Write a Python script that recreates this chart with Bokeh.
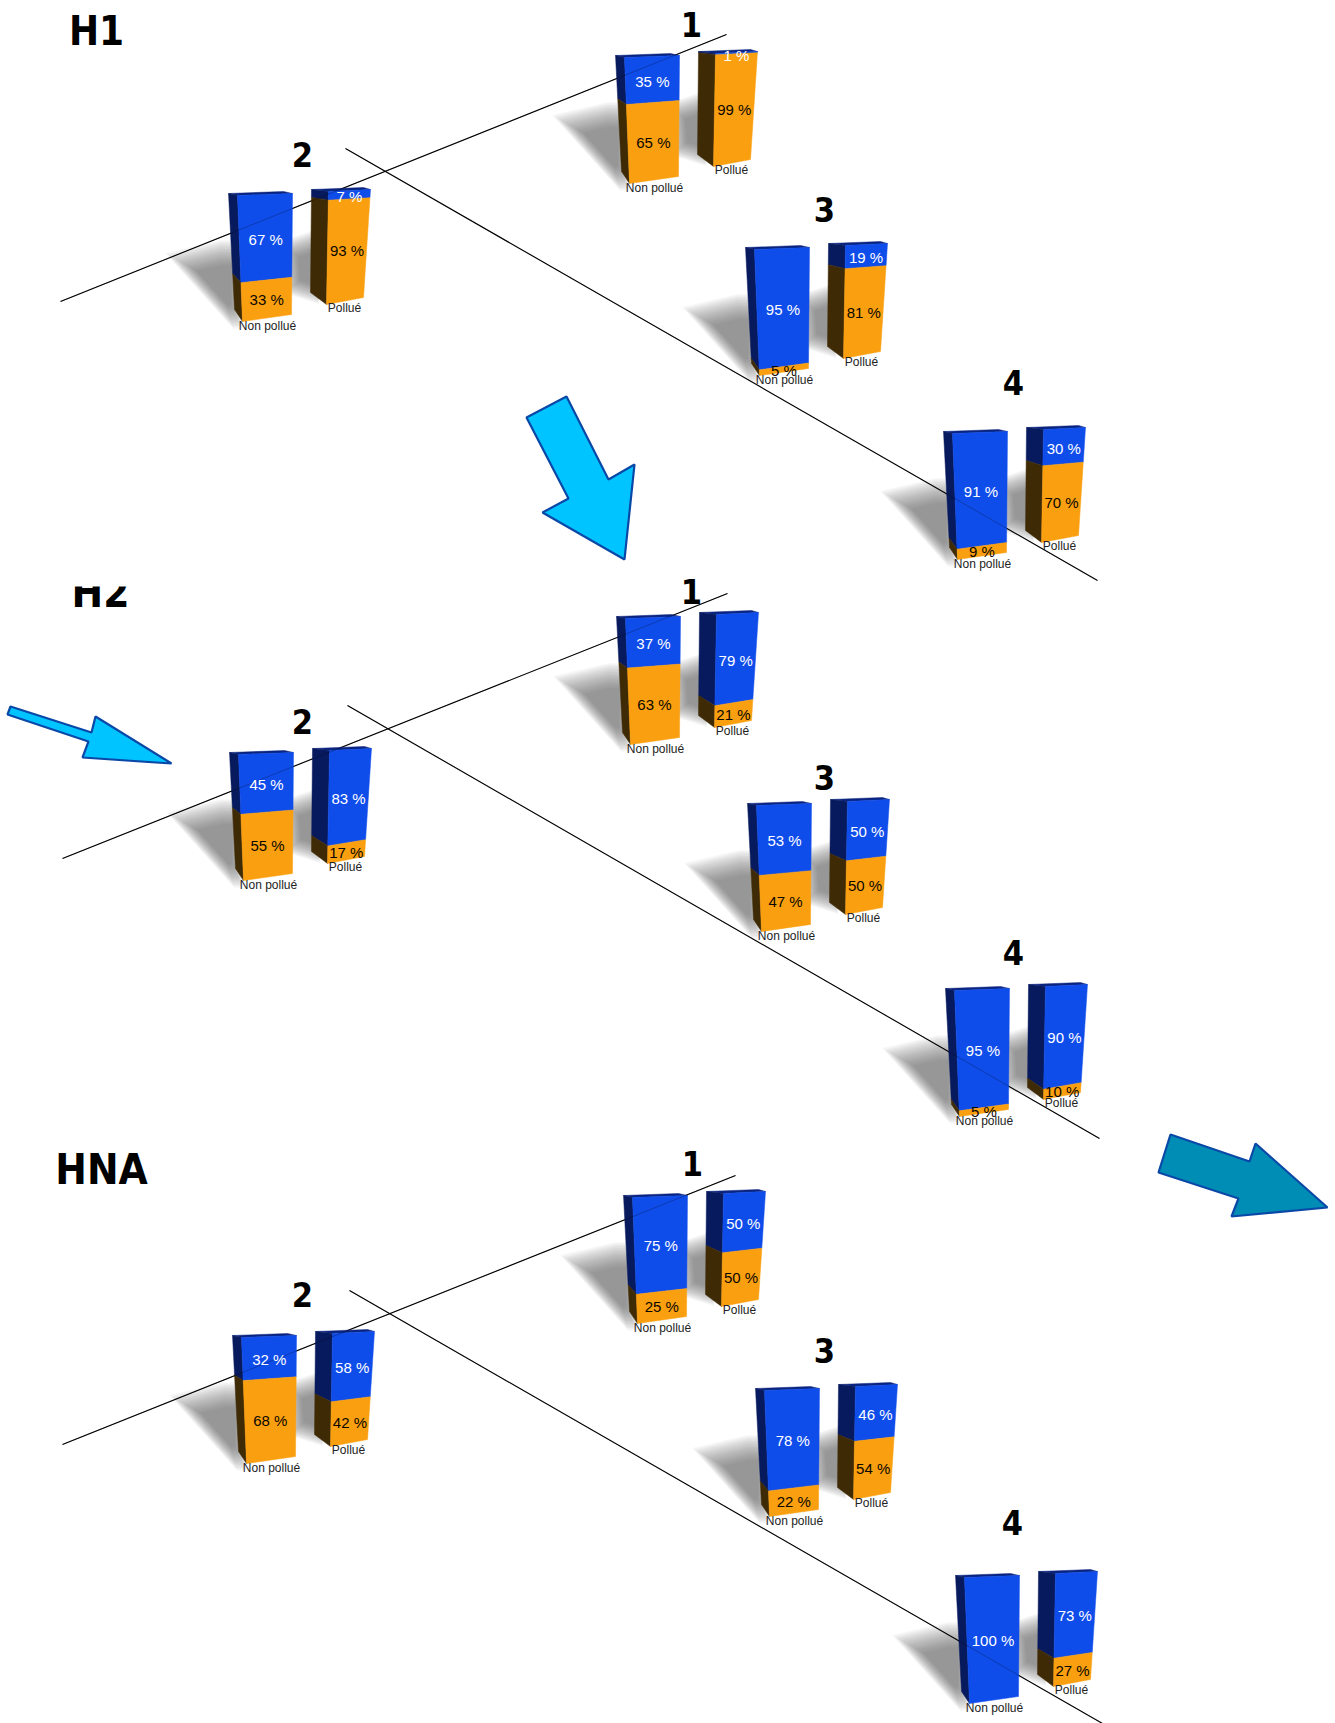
from bokeh.plotting import figure
from bokeh.models import Range1d
from bokeh.core.properties import value
from bokeh.embed import file_html
from bokeh.resources import INLINE

# ---- data: share of blue per site (1,2,3,4), orange is the complement
sites = ["1", "2", "3", "4"]
panels = ["H1", "H2", "HNA"]
h1_non_pollue = [35, 67, 95, 91]
h1_pollue = [1, 7, 19, 30]
h2_non_pollue = [37, 45, 53, 95]
h2_pollue = [79, 83, 50, 90]
hna_non_pollue = [75, 32, 78, 100]
hna_pollue = [50, 58, 46, 73]
series_names = ["Non pollué", "Pollué"]

# ---- layout (page pixels of the picture)
ANCHORS = {
    "H1": [(615, 55), (228, 193), (745, 247), (943, 431)],
    "H2": [(616, 616), (229, 752), (747, 803), (945, 988)],
    "HNA": [(623, 1195), (232, 1335), (755, 1388), (955, 1575)],
}
NUMBER_POS = {
    "H1": [(691, 24), (302, 154), (824, 209), (1013, 382)],
    "H2": [(691, 591), (302, 721), (824, 777), (1013, 952)],
    "HNA": [(692, 1163), (302, 1294), (824, 1350), (1012, 1522)],
}
TITLE_POS = {"H1": (96, 30, 40), "H2": (100, 592, 42), "HNA": (101, 1169, 42)}
LINES = [
    ((60, 301), (726, 34)), ((345, 148), (1097, 580)),
    ((62, 858), (727, 593)), ((347, 705), (1099, 1138)),
    ((62, 1444), (735, 1175)), ((349, 1290), (1102, 1723)),
]
ARROWS = [
    ([566, 526, 568, 542, 624, 634, 608], [396, 417, 498, 512, 559, 464, 479], "#00C4FF"),
    ([10, 7, 88, 82, 171, 95, 91], [706, 714, 741, 757, 763, 716, 732], "#00C4FF"),
    ([1170, 1158, 1238, 1231, 1327, 1255, 1249], [1134, 1172, 1198, 1216, 1207, 1143, 1161], "#008DB5"),
]
# bar shape relative to anchor: side top-left, front TL, front TR, front BR, front BL, side BL, back corner
SHAPES = [
    dict(s=(0, 0), ftl=(9, 2), ftr=(64, 0), fbr=(63, 121), fbl=(14, 128), sbl=(6, 116), back=(55, -2), label=(39, 132)),
    dict(s=(83, -4), ftl=(100, -2), ftr=(142, -4), fbr=(135, 104), fbl=(98, 111), sbl=(82, 99), back=(135, -6), label=(116, 114)),
]
BLUE, BLUE_SIDE, BLUE_TOP = "#0F4DEB", "#081A5E", "#0A2480"
ORANGE, ORANGE_SIDE = "#FA9F0F", "#3E2A05"

values = {
    "H1": (h1_non_pollue, h1_pollue),
    "H2": (h2_non_pollue, h2_pollue),
    "HNA": (hna_non_pollue, hna_pollue),
}


def lerp(a, b, t):
    return (a[0] + (b[0] - a[0]) * t, a[1] + (b[1] - a[1]) * t)


p = figure(width=1335, height=1723, x_range=Range1d(0, 1335), y_range=Range1d(1723, 0),
           toolbar_location=None, output_backend="svg", min_border=0,
           outline_line_color=None)
p.axis.visible = False
p.grid.visible = False

# shadows, soft edge from stacked translucent shapes
SHADOW_NP = [(-59, 62), (-8, 50), (12, 50), (12, 132), (4, 132)]
SHADOW_P = [(54, 50), (90, 38), (90, 108), (58, 98)]
sx, sy = [], []
for panel in panels:
    for ax, ay in ANCHORS[panel]:
        for shape, (cx, cy) in ((SHADOW_NP, (-6, 92)), (SHADOW_P, (84, 76))):
            for k in range(18):
                sc = 1.08 - k * 0.035
                sx.append([ax + cx + (q[0] - cx) * sc for q in shape])
                sy.append([ay + cy + (q[1] - cy) * sc for q in shape])
p.patches(sx, sy, fill_color="#5C5C5C", fill_alpha=0.048, line_color=None)

# axis lines behind the bars
for (a, b) in LINES:
    p.line([a[0], b[0]], [a[1], b[1]], line_color="#000000", line_width=1.1)

# bars
px, py, pc = [], [], []
tx, ty, tt, tc = [], [], [], []
lx, ly, lt = [], [], []


def poly(points, color):
    px.append([q[0] for q in points])
    py.append([q[1] for q in points])
    pc.append(color)


for panel in panels:
    for i, (ax, ay) in enumerate(ANCHORS[panel]):
        for j, shape in enumerate(SHAPES):
            blue = values[panel][j][i]
            g = {k: (ax + v[0], ay + v[1]) for k, v in shape.items()}
            f = blue / 100 * (1 + 0.1 * (1 - blue / 100))
            ml, mr, ms = lerp(g["ftl"], g["fbl"], f), lerp(g["ftr"], g["fbr"], f), lerp(g["s"], g["sbl"], f)
            poly([g["s"], g["back"], g["ftr"], g["ftl"]], BLUE_TOP)
            poly([g["s"], g["ftl"], ml, ms], BLUE_SIDE)
            poly([g["ftl"], g["ftr"], mr, ml], BLUE)
            if blue < 100:
                poly([ms, ml, g["fbl"], g["sbl"]], ORANGE_SIDE)
                poly([ml, mr, g["fbr"], g["fbl"]], ORANGE)
            t1 = lerp(g["ftl"], g["ftr"], 0.5)
            b1 = lerp(g["fbl"], g["fbr"], 0.5)
            mid = lerp(ml, mr, 0.5)
            c1 = lerp(t1, mid, 0.5)
            c2 = lerp(mid, b1, 0.5)
            tx.append(c1[0]); ty.append(c1[1] + 2); tt.append(f"{blue} %"); tc.append("#FFFFFF")
            if blue < 100:
                tx.append(c2[0]); ty.append(c2[1] + 1); tt.append(f"{100 - blue} %"); tc.append("#0A0700")
            lx.append(g["label"][0]); ly.append(g["label"][1]); lt.append(series_names[j])

p.patches(px, py, fill_color=pc, line_color=pc, line_width=0.5)

# the lines show faintly through the bars
for (a, b) in LINES:
    p.line([a[0], b[0]], [a[1], b[1]], line_color="#000000", line_width=1, line_alpha=0.25)

p.text(tx, ty, text=tt, text_color=tc, text_font=value("Liberation Sans"), text_font_size="15px",
       text_align="center", text_baseline="middle")
p.text(lx, ly, text=lt, text_color="#222222", text_font=value("Liberation Sans"), text_font_size="12px",
       text_align="center", text_baseline="middle")

# arrows
for xs, ys, col in ARROWS:
    p.patch(xs, ys, fill_color=col, line_color="#0A48A8", line_width=2.2)

# handwritten-like labels
HAND = value("DejaVu Sans Condensed")
nx, ny, nt = [], [], []
for panel in panels:
    for s, (x, y) in zip(sites, NUMBER_POS[panel]):
        nx.append(x); ny.append(y); nt.append(s)
p.text(nx, ny, text=nt, text_color="#000000", text_font=HAND, text_font_style="bold", text_font_size="34px",
       text_align="center", text_baseline="middle")
for panel in panels:
    x, y, size = TITLE_POS[panel]
    p.text([x], [y], text=[panel], text_color="#000000", text_font=HAND, text_font_style="bold",
           text_font_size=f"{size}px", text_align="center", text_baseline="middle")
# the top of the H2 title is hidden in the picture
p.quad(left=[65], right=[140], top=[560], bottom=[586], fill_color="#FFFFFF", line_color=None)

open("out.html", "w").write(file_html(p, INLINE))
